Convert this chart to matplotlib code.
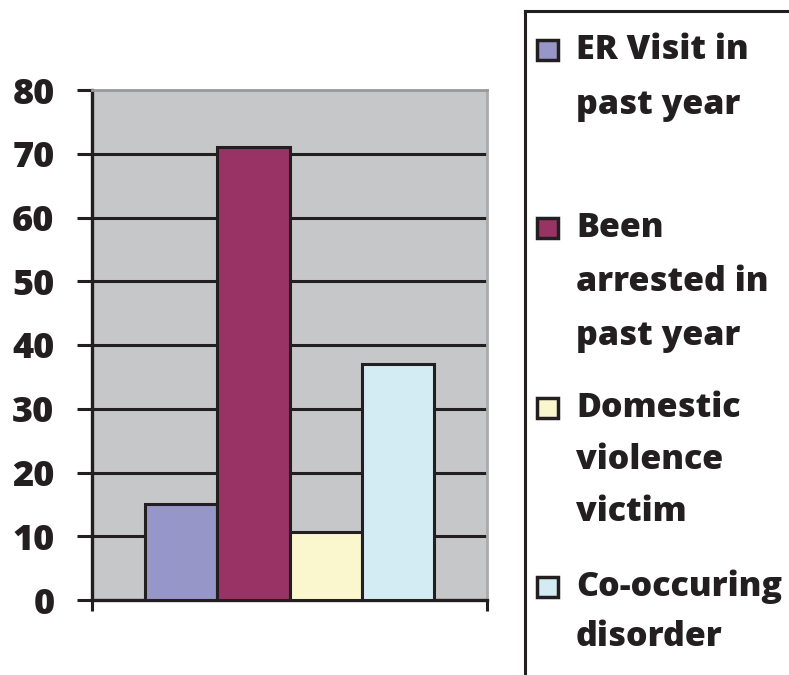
import matplotlib
matplotlib.use("Agg")
import matplotlib.pyplot as plt
from matplotlib.patches import Rectangle
from matplotlib.lines import Line2D

categories = ["ER Visit in\npast year", "Been\narrested in\npast year",
              "Domestic\nviolence\nvictim", "Co-occuring\ndisorder"]
values = [15, 71, 10.7, 37]
colors = ["#9696C8", "#993366", "#FAF7CF", "#D3ECF3"]
yticks = [0, 10, 20, 30, 40, 50, 60, 70, 80]

W, H = 789, 675
fig = plt.figure(figsize=(W / 100, H / 100), dpi=100)
ax = fig.add_axes([92 / W, 1 - 600 / H, (487 - 92) / W, (600 - 90) / H])
ax.set_facecolor("#C6C7C9")

positions = [-1.5, -0.5, 0.5, 1.5]
ax.bar(positions, values, width=1.0, color=colors, edgecolor="#231F20",
       linewidth=2.2, zorder=3)

ax.set_ylim(0, 80)
ax.set_xlim(-2.74, 2.74)
ax.set_yticks(yticks)
ax.set_yticklabels([str(t) for t in yticks], fontfamily="Open Sans",
                   fontweight=800, fontsize=26, color="#231F20")
ax.tick_params(axis="y", length=11, width=2.2, color="#231F20", pad=16)
ax.set_xticks([-2.74, 2.74])
ax.set_xticklabels(["", ""])
ax.tick_params(axis="x", length=8, width=2.2, color="#231F20")

for t in yticks[1:-1]:
    ax.axhline(t, color="#231F20", lw=2.2, zorder=2)

ax.spines["left"].set_color("#231F20")
ax.spines["left"].set_linewidth(2.4)
ax.spines["bottom"].set_color("#231F20")
ax.spines["bottom"].set_linewidth(2.4)
ax.spines["top"].set_color("#999999")
ax.spines["top"].set_linewidth(2)
ax.spines["right"].set_color("#AAAAAA")
ax.spines["right"].set_linewidth(2)

# legend box (manual)
def fx(px):
    return px / W

def fy(py):
    return 1 - py / H

fig.add_artist(Line2D([fx(525), fx(525)], [fy(11), fy(680)], color="#231F20",
                      lw=2.2, transform=fig.transFigure))
fig.add_artist(Line2D([fx(525), fx(795)], [fy(11), fy(11)], color="#231F20",
                      lw=2.2, transform=fig.transFigure))

first_line_y = [50, 228, 408, 587]
line_gaps = [55, 54, 52, 50]
for lab, col, y0, gap in zip(categories, colors, first_line_y, line_gaps):
    fig.add_artist(Rectangle((fx(537), fy(y0 + 10)), 21 / W, 20 / H,
                             facecolor=col, edgecolor="#231F20", lw=2.5,
                             transform=fig.transFigure))
    for i, line in enumerate(lab.split("\n")):
        fig.text(fx(576), fy(y0 + i * gap), line, fontfamily="Open Sans",
                 fontweight=800, fontsize=24.5, color="#231F20",
                 va="center", ha="left")

fig.savefig("out.png", dpi=100)
